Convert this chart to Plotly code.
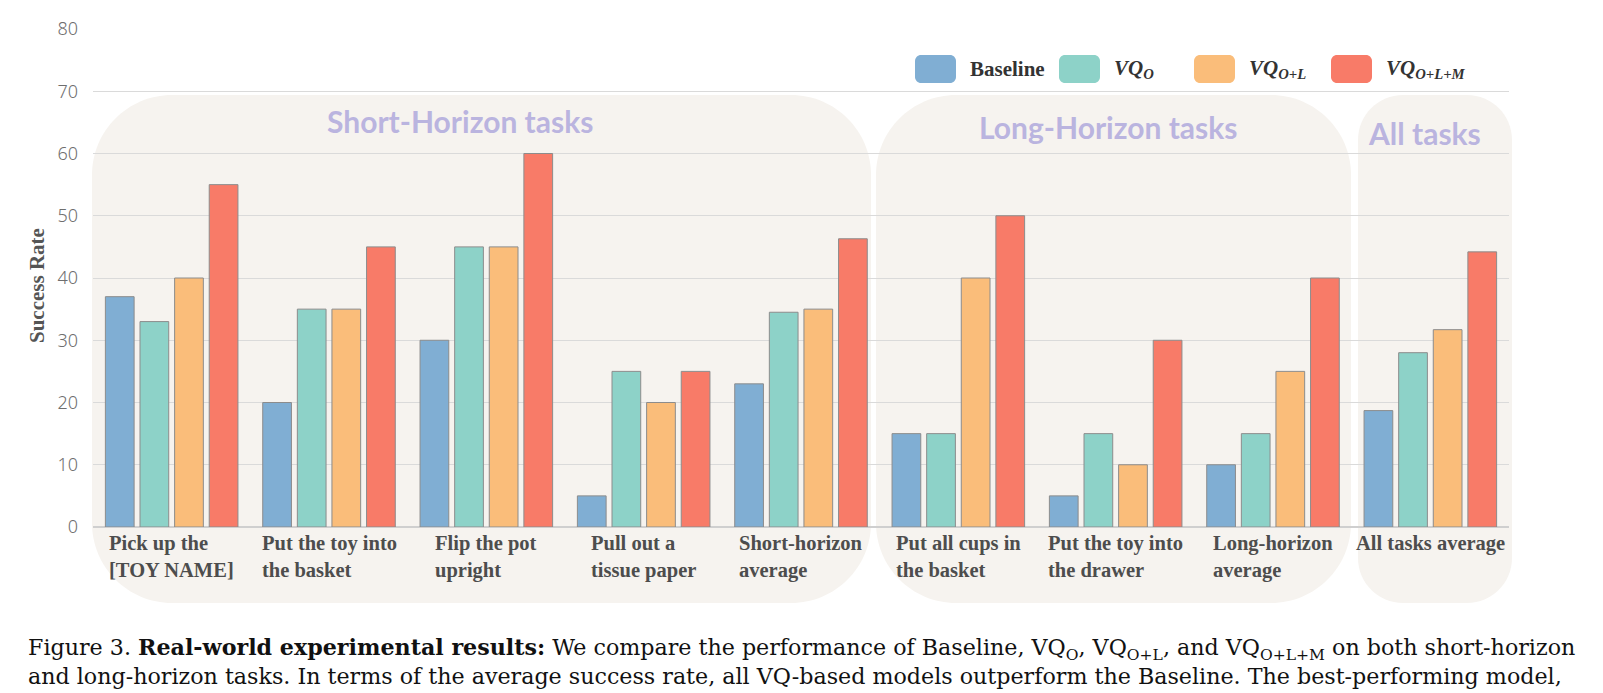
import plotly.graph_objects as go

# ---------------- data ----------------
categories = [
    "Pick up the [TOY NAME]", "Put the toy into the basket", "Flip the pot upright",
    "Pull out a tissue paper", "Short-horizon average", "Put all cups in the basket",
    "Put the toy into the drawer", "Long-horizon average", "All tasks average",
]
category_labels = [
    "Pick up the<br>[TOY NAME]", "Put the toy into<br>the basket", "Flip the pot<br>upright",
    "Pull out a<br>tissue paper", "Short-horizon<br>average", "Put all cups in<br>the basket",
    "Put the toy into<br>the drawer", "Long-horizon<br>average", "All tasks average",
]
baseline = [37, 20, 30, 5, 23, 15, 5, 10, 18.7]
vq_o = [33, 35, 45, 25, 34.5, 15, 15, 15, 28]
vq_ol = [40, 35, 45, 20, 35, 40, 10, 25, 31.7]
vq_olm = [55, 45, 60, 25, 46.3, 50, 30, 40, 44.2]

series_names = ["Baseline", "VQ_O", "VQ_O+L", "VQ_O+L+M"]
legend_labels = [
    "<b>Baseline</b>",
    "<b><i>VQ</i></b><sub><b><i>O</i></b></sub>",
    "<b><i>VQ</i></b><sub><b><i>O+L</i></b></sub>",
    "<b><i>VQ</i></b><sub><b><i>O+L+M</i></b></sub>",
]
colors = ["#80AED3", "#8DD2C8", "#FABD7A", "#F87B68"]
y_ticks = [0, 10, 20, 30, 40, 50, 60, 70, 80]
y_title = "Success Rate"
group_titles = ["Short-Horizon tasks", "Long-Horizon tasks", "All tasks"]

caption_lines = [
    ("Figure 3. <b>Real-world experimental results:</b> We compare the performance of "
     "Baseline, VQ<sub>O</sub>, VQ<sub>O+L</sub>, and VQ<sub>O+L+M</sub> on both short-horizon"),
    ("and long-horizon tasks. In terms of the average success rate, all VQ-based models "
     "outperform the Baseline. The best-performing model,"),
]

# ---------------- geometry ----------------
W, H = 1603, 693
ML, MR, MT, MB = 93, 94, 29, 166
PW, PH = W - ML - MR, H - MT - MB


def px(x):
    return (x - ML) / PW


def py(y):
    return (H - MB - y) / PH


def rounded_rect(x0, y0, x1, y1, r):
    k = 0.5523 * r
    pts = [
        f"M{px(x0 + r)},{py(y0)}",
        f"L{px(x1 - r)},{py(y0)}",
        f"C{px(x1 - r + k)},{py(y0)} {px(x1)},{py(y0 + r - k)} {px(x1)},{py(y0 + r)}",
        f"L{px(x1)},{py(y1 - r)}",
        f"C{px(x1)},{py(y1 - r + k)} {px(x1 - r + k)},{py(y1)} {px(x1 - r)},{py(y1)}",
        f"L{px(x0 + r)},{py(y1)}",
        f"C{px(x0 + r - k)},{py(y1)} {px(x0)},{py(y1 - r + k)} {px(x0)},{py(y1 - r)}",
        f"L{px(x0)},{py(y0 + r)}",
        f"C{px(x0)},{py(y0 + r - k)} {px(x0 + r - k)},{py(y0)} {px(x0 + r)},{py(y0)}",
        "Z",
    ]
    return " ".join(pts)


fig = go.Figure()
for name, vals, col in zip(series_names, [baseline, vq_o, vq_ol, vq_olm], colors):
    fig.add_trace(go.Bar(
        x=categories, y=vals, name=name, showlegend=False,
        marker=dict(color=col, line=dict(color="#8c8c8c", width=1)),
    ))

shapes = []
boxes = [(92, 95, 871, 603, 80), (876, 95, 1351, 603, 80), (1358, 95, 1512, 603, 45)]
for (x0, y0, x1, y1, r) in boxes:
    shapes.append(dict(type="path", xref="paper", yref="paper", path=rounded_rect(x0, y0, x1, y1, r),
                       fillcolor="#F6F3EF", line=dict(width=0), layer="below"))

annotations = []
title_pos = [(460, 121), (1108, 127), (1424, 133)]
for t, (x, y) in zip(group_titles, title_pos):
    annotations.append(dict(text=f"<b>{t}</b>", x=px(x), y=py(y), xref="paper", yref="paper",
                            xanchor="center", yanchor="middle", showarrow=False,
                            font=dict(family="Lato", size=30, color="#BAB4DF")))

for cat, lab in zip(categories, category_labels):
    annotations.append(dict(text=f"<b>{lab}</b>", x=cat, y=0, xref="x", yref="y",
                            xanchor="center", yanchor="top", yshift=-3, align="left", showarrow=False,
                            font=dict(family="Liberation Serif", size=20.5, color="#4d4d4d")))

# y-axis title
annotations.append(dict(text=f"<b>{y_title}</b>", x=px(37), y=py(285), xref="paper", yref="paper",
                        xanchor="center", yanchor="middle", textangle=-90, showarrow=False,
                        font=dict(family="Liberation Serif", size=21, color="#555555")))

# legend (manual, large rounded swatches)
sw_x = [915, 1059, 1194, 1331]
for lab, col, x in zip(legend_labels, colors, sw_x):
    shapes.append(dict(type="path", xref="paper", yref="paper", path=rounded_rect(x, 55, x + 41, 83, 6),
                       fillcolor=col, line=dict(width=0), layer="above"))
    annotations.append(dict(text=lab, x=px(x + 53), y=py(69), xref="paper", yref="paper",
                            xanchor="left", yanchor="middle", showarrow=False,
                            font=dict(family="Liberation Serif", size=21, color="#333333")))

# caption (one text block, two lines)
annotations.append(dict(text="<br>".join(caption_lines), x=px(26), y=py(661), xref="paper", yref="paper",
                        xanchor="left", yanchor="middle", align="left", showarrow=False,
                        font=dict(family="DejaVu Serif", size=22.2, color="#111111")))

fig.update_layout(
    width=W, height=H,
    margin=dict(l=ML, r=MR, t=MT, b=MB, autoexpand=False),
    paper_bgcolor="white", plot_bgcolor="rgba(0,0,0,0)",
    barmode="group", bargap=0.12, bargroupgap=0.17,
    shapes=shapes, annotations=annotations,
    xaxis=dict(showticklabels=False, showgrid=False, zeroline=False, showline=False,
               range=[-0.5, 8.5]),
    yaxis=dict(range=[0, 80], tickvals=y_ticks, showgrid=True, gridcolor="#DADADA", gridwidth=1.3,
               zeroline=True, zerolinecolor="#CFCFCF", zerolinewidth=1.5,
               ticklabelstandoff=14,
               tickfont=dict(family="Noto Sans", size=18, color="#6e6e6e", weight=300)),
)

fig.write_html("out.html")
